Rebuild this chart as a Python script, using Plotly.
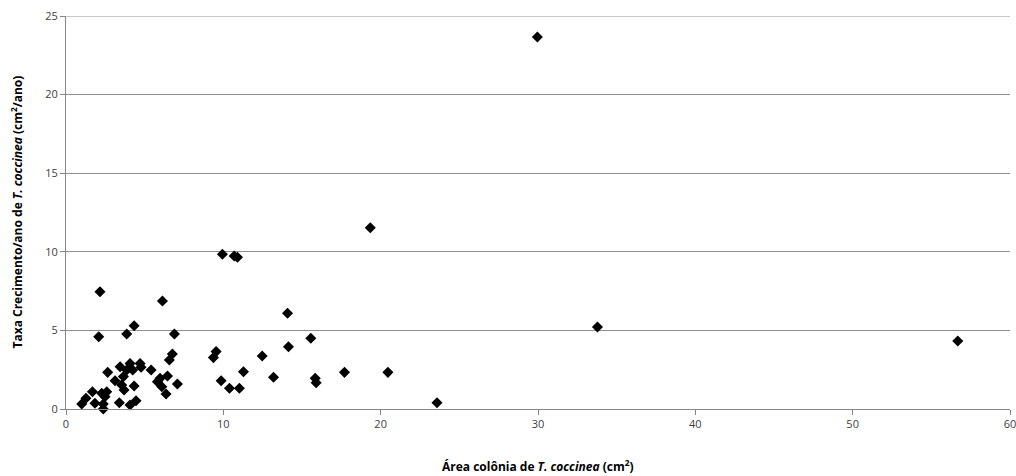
import plotly.graph_objects as go

area_cm2 = [2.16, 6.13, 4.33, 3.86, 2.08, 6.89, 6.76, 6.57, 4.07, 4.71, 3.44, 4.77, 3.86, 4.24, 5.41,
            2.65, 3.65, 3.12, 5.98, 6.45, 5.81, 6.09, 7.08, 3.54, 4.33, 3.69, 6.36, 1.68, 2.27, 2.59,
            1.27, 2.48, 1.0, 1.84, 2.37, 3.39, 4.45, 4.07, 2.37,
            9.94, 10.69, 10.9, 14.08, 15.56, 9.54, 9.37, 14.14, 12.47, 11.28, 13.19, 9.86, 10.39, 11.02,
            15.84, 15.9, 19.34, 17.7, 20.46, 23.58, 29.96, 33.78, 56.68]
taxa = [7.46, 6.87, 5.3, 4.77, 4.6, 4.77, 3.5, 3.12, 2.9, 2.9, 2.69, 2.65, 2.48, 2.48, 2.48,
        2.33, 2.06, 1.8, 1.95, 2.1, 1.74, 1.42, 1.59, 1.53, 1.46, 1.21, 0.95, 1.1, 1.0, 1.1,
        0.68, 0.78, 0.32, 0.36, 0.32, 0.4, 0.53, 0.25, 0.0,
        9.84, 9.73, 9.65, 6.09, 4.5, 3.65, 3.27, 3.96, 3.37, 2.37, 2.02, 1.8, 1.32, 1.32,
        1.95, 1.67, 11.53, 2.33, 2.33, 0.4, 23.66, 5.22, 4.33]

x_ticks = [0, 10, 20, 30, 40, 50, 60]
y_ticks = [0, 5, 10, 15, 20, 25]

x_title = "<b>Área colônia de <i>T. coccinea</i> (cm<sup>2</sup>)</b>"
y_title = "<b>Taxa Crecimento/ano de <i>T. coccinea</i> (cm<sup>2</sup>/ano)</b>"

fig = go.Figure()
fig.add_trace(go.Scatter(
    x=area_cm2, y=taxa, mode="markers",
    marker=dict(symbol="diamond", size=8.5, color="black", line=dict(width=0)),
    showlegend=False, hoverinfo="x+y", cliponaxis=False))

font_family = "Open Sans, DejaVu Sans, sans-serif"
fig.update_layout(
    width=1016, height=476,
    margin=dict(l=66, r=6, t=16, b=67),
    paper_bgcolor="white", plot_bgcolor="white",
    font=dict(family=font_family, size=11, color="#404040"),
)
fig.update_xaxes(
    range=[0, 60], tickvals=x_ticks, showgrid=False, zeroline=False, automargin=False,
    showline=True, linecolor="#868686", linewidth=1, ticklabeloverflow="allow",
    ticks="outside", ticklen=5, tickcolor="#868686",
    tickfont=dict(size=11, color="#404040"),
)
fig.update_yaxes(
    range=[0, 25], tickvals=y_ticks, showgrid=True, gridcolor="#8f8f8f", gridwidth=1,
    zeroline=False, showline=True, linecolor="#868686", linewidth=1, automargin=False,
    ticklabeloverflow="allow",
    ticks="outside", ticklen=5, tickcolor="#868686",
    tickfont=dict(size=11, color="#404040"),
)
# top gridline (plotly omits the gridline lying on the plot edge)
fig.add_shape(type="line", xref="paper", yref="y", x0=0, x1=1,
              y0=y_ticks[-1], y1=y_ticks[-1], line=dict(color="#8f8f8f", width=1))
fig.add_annotation(text=x_title, xref="paper", yref="paper", x=0.5, y=0,
                   yshift=-57, showarrow=False, yanchor="middle",
                   font=dict(size=12, color="black"))
fig.add_annotation(text=y_title, xref="paper", yref="paper", x=0, y=0.5,
                   xshift=-50, showarrow=False, textangle=-90, xanchor="center",
                   font=dict(size=12, color="black"))
fig.write_html("out.html", config={"displayModeBar": False},
               post_script="document.body.style.margin='0';document.body.style.padding='0';")
